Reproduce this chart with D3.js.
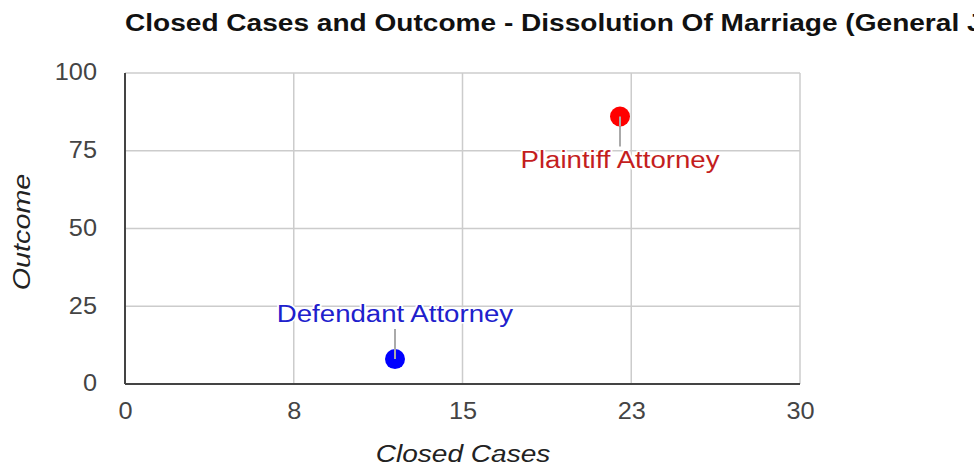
<!DOCTYPE html>
<html>
<head>
<meta charset="utf-8">
<script src="https://cdn.jsdelivr.net/npm/d3@7"></script>
<style>
  body { margin: 0; background: #fff; overflow: hidden; }
  svg { font-family: "Liberation Sans", Arial, sans-serif; }
</style>
</head>
<body>
<div class="chart-container"></div>
<script>
// data
const names = ["Defendant Attorney", "Plaintiff Attorney"];
const closedCases = [12, 22];
const outcomes = [8, 86];
const colors = ["#0000ff", "#ff0000"];
const labelColors = ["#2020cc", "#c41e1e"];
const xTicks = [0, 7.5, 15, 22.5, 30];
const yTicks = [0, 25, 50, 75, 100];

const width = 974, height = 471;
const margin = { left: 125, top: 73, right: 174, bottom: 87 };
const w = width - margin.left - margin.right;
const h = height - margin.top - margin.bottom;

// the reference text is a bit wide, stretch it horizontally
function stretch(sel, sx) {
  sel.each(function () {
    const len = this.getComputedTextLength();
    d3.select(this)
      .attr("textLength", len * sx)
      .attr("lengthAdjust", "spacingAndGlyphs");
  });
}

const svg = d3.select(".chart-container")
  .append("svg")
  .attr("width", width)
  .attr("height", height);

const title = svg.append("text")
  .attr("x", 125)
  .attr("y", 31)
  .attr("font-size", 23)
  .attr("font-weight", "bold")
  .attr("fill", "#111")
  .text("Closed Cases and Outcome - Dissolution Of Marriage (General Jurisdiction)");
stretch(title, 1.22);

const g = svg.append("g")
  .attr("transform", "translate(" + margin.left + "," + margin.top + ")");

const x = d3.scaleLinear().domain([0, 30]).range([0, w]);
const y = d3.scaleLinear().domain([0, 100]).range([h, 0]);

// grid
g.selectAll(".vgrid")
  .data(xTicks.slice(1))
  .enter()
  .append("line")
  .attr("x1", d => x(d)).attr("x2", d => x(d))
  .attr("y1", 0).attr("y2", h)
  .attr("stroke", "#cccccc").attr("stroke-width", 1.5);

g.selectAll(".hgrid")
  .data(yTicks.slice(1))
  .enter()
  .append("line")
  .attr("x1", 0).attr("x2", w)
  .attr("y1", d => y(d)).attr("y2", d => y(d))
  .attr("stroke", "#cccccc").attr("stroke-width", 1.5);

// axes
const xAxis = g.append("g")
  .attr("transform", "translate(0," + h + ")")
  .call(d3.axisBottom(x).tickValues(xTicks).tickSize(0).tickPadding(19)
    .tickFormat(d => Math.round(d)));
xAxis.select(".domain").remove();
xAxis.selectAll("text").attr("font-size", 23).attr("fill", "#444")
  .attr("font-family", "Liberation Sans, Arial, sans-serif");
stretch(xAxis.selectAll("text"), 1.1);

const yAxis = g.append("g")
  .call(d3.axisLeft(y).tickValues(yTicks).tickSize(0).tickPadding(28));
yAxis.select(".domain").remove();
yAxis.selectAll("text").attr("font-size", 23).attr("fill", "#444")
  .attr("font-family", "Liberation Sans, Arial, sans-serif")
  .attr("dy", "0.3em");
stretch(yAxis.selectAll("text"), 1.1);

g.append("line")
  .attr("x1", 0).attr("x2", 0).attr("y1", 0).attr("y2", h)
  .attr("stroke", "#444").attr("stroke-width", 2);
g.append("line")
  .attr("x1", 0).attr("x2", w).attr("y1", h).attr("y2", h)
  .attr("stroke", "#444").attr("stroke-width", 2);

// axis titles
const xTitle = svg.append("text")
  .attr("x", 463)
  .attr("y", 462)
  .attr("text-anchor", "middle")
  .attr("font-size", 23)
  .attr("font-style", "italic")
  .attr("fill", "#222")
  .text("Closed Cases");
stretch(xTitle, 1.22);

const yTitle = svg.append("text")
  .attr("transform", "translate(30,232) rotate(-90)")
  .attr("text-anchor", "middle")
  .attr("font-size", 23)
  .attr("font-style", "italic")
  .attr("fill", "#222")
  .text("Outcome");
stretch(yTitle, 1.25);

// points + annotations
const data = names.map((n, i) => ({ name: n, x: closedCases[i], y: outcomes[i], i }));

// leader lines: first goes up, second goes down
const dir = [-1, 1];
g.selectAll(".leader")
  .data(data)
  .enter()
  .append("line")
  .attr("x1", d => x(d.x)).attr("x2", d => x(d.x))
  .attr("y1", d => y(d.y))
  .attr("y2", d => y(d.y) + dir[d.i] * 30)
  .attr("stroke", "#aaa").attr("stroke-width", 2);

g.selectAll(".dot")
  .data(data)
  .enter()
  .append("circle")
  .attr("cx", d => x(d.x))
  .attr("cy", d => y(d.y))
  .attr("r", 10)
  .attr("fill", d => colors[d.i]);

g.selectAll(".dot-line-top")
  .data(data)
  .enter()
  .append("line")
  .attr("x1", d => x(d.x)).attr("x2", d => x(d.x))
  .attr("y1", d => y(d.y))
  .attr("y2", d => y(d.y) + dir[d.i] * 10)
  .attr("stroke", "#aaa").attr("stroke-width", 2);

const labels = g.selectAll(".lbl")
  .data(data)
  .enter()
  .append("text")
  .attr("x", d => x(d.x))
  .attr("y", d => y(d.y) + (d.i === 0 ? -37 : 51))
  .attr("text-anchor", "middle")
  .attr("font-size", 23)
  .attr("fill", d => labelColors[d.i])
  .attr("stroke", "#fff").attr("stroke-width", 3).attr("paint-order", "stroke")
  .text(d => d.name);
stretch(labels, 1.2);
</script>
</body>
</html>
